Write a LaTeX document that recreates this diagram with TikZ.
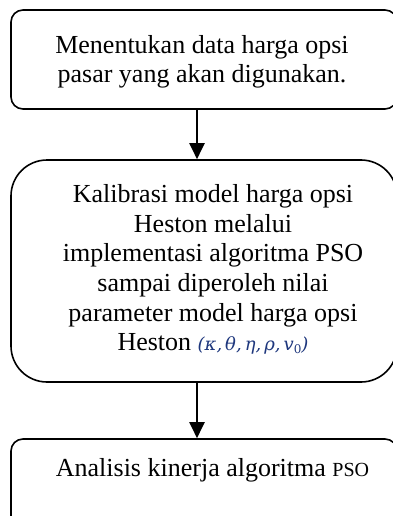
\documentclass[tikz,border=0pt]{standalone}
\usepackage{fontspec}
\setmainfont{Liberation Serif}
\newfontfamily\formulafont{DejaVu Serif}
\usetikzlibrary{arrows.meta,calc}
\definecolor{mathblue}{RGB}{30,55,125}
\begin{document}
\begin{tikzpicture}[x=1pt,y=1pt,
  box/.style={draw=black,line width=1.6pt,fill=white,inner sep=0pt},
  label/.style={inner sep=0pt,align=center,font=\fontsize{26}{29.6}\selectfont},
  flow/.style={line width=2pt,-{Triangle[length=16pt,width=15pt]}}]
\useasboundingbox (0,0) rectangle (393,-516);
\clip (0,0) rectangle (393,-516);
\fill[white] (0,0) rectangle (393,-516);
% the three process boxes (right edges and the last bottom run past the frame)
\node[box,rounded corners=12pt,minimum width=386pt,minimum height=99pt] (b1) at (204,-59.5) {};
\node[box,rounded corners=36pt,minimum width=386pt,minimum height=222pt] (b2) at (204,-271) {};
\node[box,rounded corners=12pt,minimum width=386pt,minimum height=92pt] (b3) at (204,-485) {};
% box texts
\node[label,anchor=north] (t1) at (202,-35)
  {Menentukan data harga opsi\\pasar yang akan digunakan.};
\node[label,anchor=north] (t2) at (213,-184.5)
  {Kalibrasi model harga opsi\\Heston melalui\\implementasi algoritma PSO\\sampai diperoleh nilai\\parameter model harga opsi\\Heston {\formulafont\itshape\fontsize{18}{18}\selectfont\color{mathblue}(κ,\,θ,\,η,\,ρ,\,v\raisebox{-3pt}{\fontsize{12}{12}\selectfont\upshape 0})}};
\node[label,anchor=base] (t3) at (212.5,-476)
  {Analisis kinerja algoritma {\fontsize{20}{20}\selectfont PSO}};
% connectors
\coordinate (ax) at (197,0);
\draw[flow] (b1.south -| ax) -- (b2.north -| ax);
\draw[flow] (b2.south -| ax) -- (b3.north -| ax);
\end{tikzpicture}
\end{document}
